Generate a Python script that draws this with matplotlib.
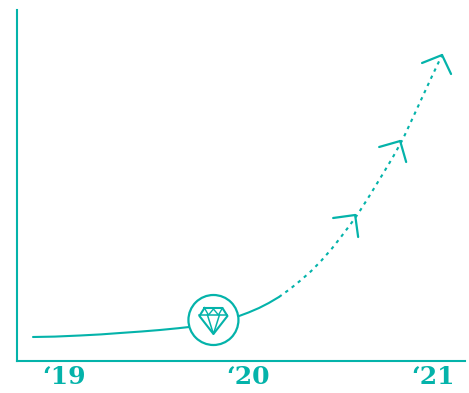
import matplotlib
matplotlib.use('Agg')
import matplotlib.pyplot as plt
from matplotlib.patches import Circle
from matplotlib.transforms import Affine2D

TEAL = '#04b3aa'

# solid part of the curve, then dotted part (year, value)
solid_x = [2018.832, 2018.95, 2019.087, 2019.2, 2019.304, 2019.42, 2019.520, 2019.62, 2019.678,
           2019.949, 2020.0, 2020.057, 2020.11, 2020.165]
solid_y = [24, 24.4, 25.5, 26.6, 28, 29.5, 31, 32.8, 34,
           45, 48.5, 53, 58, 64]
dotted_x = [2020.165, 2020.225, 2020.285, 2020.34, 2020.393, 2020.45, 2020.501, 2020.55, 2020.593,
            2020.655, 2020.718, 2020.78, 2020.837, 2020.885, 2020.935, 2020.99, 2021.049]
dotted_y = [64, 72, 81, 90, 100, 112, 124, 136, 147,
            165, 184, 203, 222, 241, 261, 283, 306]

# arrow tips on the dotted line
tip_x = [2020.578, 2020.822, 2021.049]
tip_y = [146, 220, 306]

year_ticks = [2019, 2020, 2021]
year_labels = ['‘19', '‘20', '‘21']

fig = plt.figure(figsize=(4.69, 3.93), dpi=100)
ax = fig.add_axes([17 / 469, 1 - 361 / 393, 448 / 469, 351 / 393])
ax.set_xlim(2019 + (17 - 64) / 184.5, 2019 + (465 - 64) / 184.5)
ax.set_ylim(0, 351)
ax.spines['top'].set_visible(False)
ax.spines['right'].set_visible(False)
ax.spines['left'].set_color(TEAL)
ax.spines['bottom'].set_color(TEAL)
ax.spines['left'].set_linewidth(1.5)
ax.spines['bottom'].set_linewidth(1.5)
ax.set_yticks([])
ax.set_xticks(year_ticks)
ax.set_xticklabels(year_labels, family='DejaVu Serif', fontweight='bold',
                   fontsize=18, color=TEAL)
ax.tick_params(axis='x', length=0, pad=3)

ax.plot(solid_x, solid_y, color=TEAL, lw=1.5, solid_capstyle='round')
ax.plot(dotted_x, dotted_y, color=TEAL, lw=1.5, dashes=(1.6, 2.2))

# arrow heads, arm offsets in pixels from the tip
arms = [[(-22, -3), (3, -22)], [(-21, -6), (6, -21)], [(-20, -8), (9, -19)]]
for x, y, pair in zip(tip_x, tip_y, arms):
    for off in pair:
        ax.annotate('', xy=(x, y), xytext=off, textcoords='offset pixels',
                    arrowprops=dict(arrowstyle='-', color=TEAL, lw=1.6,
                                    shrinkA=0, shrinkB=0))

# gem badge, drawn in pixels around its centre
fig.canvas.draw()
cx, cy = ax.transData.transform((2019.81, 41))
badge = Affine2D().scale(1, -1).translate(cx, cy)
ax.add_patch(Circle((0, 0), 25, transform=badge, fc='white', ec=TEAL, lw=1.6,
                    clip_on=False, zorder=5))
gem_lines = [
    ([-9, 9, 14, 0, -14, -9], [-12, -12, -4, 14, -4, -12], 1.5),
    ([-14, 14], [-5, -5], 1.1),
    ([-6, 0, 6], [-5, 14, -5], 1.1),
    ([-9, -5, 0, 5, 9], [-12, -5, -11, -5, -12], 1.0),
]
for xs, ys, w in gem_lines:
    ax.plot(xs, ys, color=TEAL, lw=w, transform=badge, clip_on=False,
            zorder=6, solid_joinstyle='round')

fig.savefig('out.png', dpi=100)
